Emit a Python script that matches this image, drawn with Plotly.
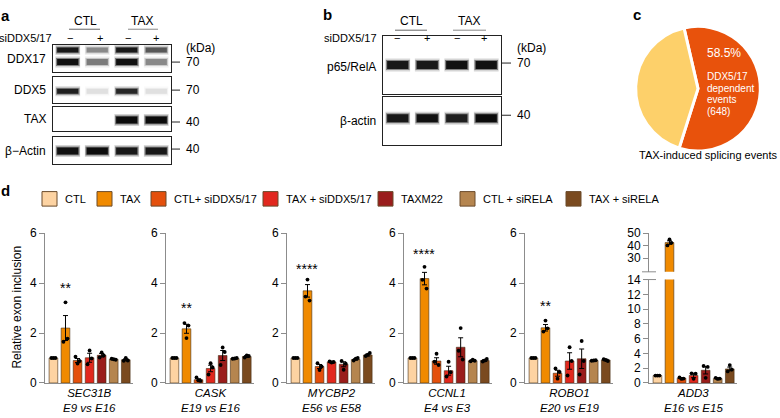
import plotly.graph_objects as go

W, H = 780, 418
FONT = "Liberation Sans, Arial, Helvetica, sans-serif"

# ------------------------------------------------------------------ data
conditions = ["CTL", "TAX", "CTL+ siDDX5/17", "TAX + siDDX5/17", "TAXM22",
              "CTL + siRELA", "TAX + siRELA"]
cond_colors = ["#FDD3A2", "#F08A00", "#E4500C", "#E2281E", "#9A1D1C",
               "#B5854F", "#7A4A1F"]

genes = ["SEC31B", "CASK", "MYCBP2", "CCNL1", "ROBO1", "ADD3"]
exon_pairs = ["E9 vs E16", "E19 vs E16", "E56 vs E58", "E4 vs E3",
              "E20 vs E19", "E16 vs E15"]

sec31b_mean = [1.0, 2.2, 0.9, 1.01, 1.11, 0.95, 0.93]
sec31b_sem = [0.01, 0.5, 0.08, 0.18, 0.07, 0.02, 0.04]
sec31b_pts = [[1.0, 1.0, 1.0], [1.65, 3.23, 1.78], [1.05, 0.78, 0.88],
              [0.75, 1.3, 0.98], [1.02, 1.22, 1.1], [0.97, 0.95, 0.93],
              [0.89, 1.0, 0.9]]

cask_mean = [1.0, 2.17, 0.13, 0.58, 1.1, 0.98, 1.06]
cask_sem = [0.01, 0.18, 0.04, 0.13, 0.2, 0.02, 0.04]
cask_pts = [[1.0, 1.0, 1.0], [2.4, 1.8, 2.3], [0.22, 0.1, 0.08],
            [0.34, 0.79, 0.62], [0.72, 1.42, 1.24], [0.97, 0.98, 1.0],
            [1.02, 1.1, 1.08]]

mycbp2_mean = [1.0, 3.69, 0.66, 0.84, 0.75, 0.94, 1.12]
mycbp2_sem = [0.01, 0.25, 0.08, 0.03, 0.1, 0.03, 0.04]
mycbp2_pts = [[1.0, 1.0, 1.0], [3.46, 4.14, 3.3], [0.79, 0.52, 0.66],
              [0.86, 0.82, 0.84], [0.88, 0.53, 0.77], [0.9, 0.97, 1.0],
              [1.08, 1.13, 1.2]]

ccnl1_mean = [1.0, 4.18, 0.88, 0.49, 1.43, 0.89, 0.9]
ccnl1_sem = [0.01, 0.25, 0.13, 0.18, 0.38, 0.03, 0.04]
ccnl1_pts = [[1.0, 1.0, 1.0], [4.13, 4.65, 3.78], [0.85, 1.17, 0.72],
             [0.26, 0.85, 0.43], [1.29, 2.2, 0.94], [0.87, 0.93, 0.89],
             [0.86, 0.9, 0.96]]

robo1_mean = [1.0, 2.21, 0.39, 0.88, 0.97, 0.9, 0.92]
robo1_sem = [0.01, 0.13, 0.12, 0.33, 0.39, 0.01, 0.03]
robo1_pts = [[1.0, 1.0, 1.0], [2.06, 2.5, 2.19], [0.58, 0.17, 0.44],
             [0.3, 1.43, 0.88], [0.34, 1.68, 0.88], [0.89, 0.9, 0.91],
             [0.95, 0.92, 0.88]]

add3_mean = [1.0, 42.5, 0.65, 1.02, 1.72, 0.6, 1.9]
add3_sem = [0.02, 1.4, 0.08, 0.3, 0.5, 0.06, 0.25]
add3_pts = [[1.0, 1.0, 1.0], [40.2, 45.0, 42.3], [0.75, 0.55, 0.6],
            [1.3, 0.56, 1.26], [2.3, 0.7, 2.17], [0.7, 0.55, 0.6],
            [1.56, 2.43, 1.82]]

stars = ["**", "**", "****", "****", "**", "****"]
star_y = [3.79, 3.02, 4.57, 5.15, 3.1, 53.8]

y_ticks_small = [0, 2, 4, 6]
y_ticks_add3_low = [0, 2, 4, 6, 8, 10, 12, 14]
y_ticks_add3_high = [30, 40, 50]

# western blot band intensities (lanes: CTL -, CTL +, TAX -, TAX +)
lanes_sign = ["\u2212", "+", "\u2212", "+"]
ddx17_upper = [0.9, 0.35, 0.9, 0.55]
ddx17_lower = [0.95, 0.4, 0.95, 0.35]
ddx5_band = [0.85, 0.08, 0.8, 0.08]
tax_band = [0.0, 0.0, 1.0, 1.0]
actin_a_band = [0.95, 1.0, 0.9, 0.9]
p65_band = [0.9, 0.9, 0.95, 0.95]
actin_b_band = [0.9, 0.95, 0.85, 1.0]

pie_labels = ["DDX5/17 dependent", "other"]
pie_values = [58.5, 41.5]
pie_colors = ["#E8520C", "#FDD06A"]

# ------------------------------------------------------------------ helpers
def px(x):
    return x / W


def py(y):
    return 1 - y / H


fig = go.Figure()
axes = {}
annotations = []
shapes = []


def ref(i):
    return ("x" if i == 1 else f"x{i}"), ("y" if i == 1 else f"y{i}")


def add_axes(i, xdom, ydom, xkw, ykw):
    xr, yr = ref(i)
    axes["xaxis" if i == 1 else f"xaxis{i}"] = dict(domain=xdom, anchor=yr, **xkw)
    axes["yaxis" if i == 1 else f"yaxis{i}"] = dict(domain=ydom, anchor=xr, **ykw)


def txt(x, y, s, size=12, xanchor="center", yanchor="middle", color="black",
        bold=False, italic=False, angle=0, xref="paper", yref="paper"):
    if bold:
        s = f"<b>{s}</b>"
    if italic:
        s = f"<i>{s}</i>"
    annotations.append(dict(x=x, y=y, xref=xref, yref=yref, text=s,
                            showarrow=False, xanchor=xanchor, yanchor=yanchor,
                            textangle=angle,
                            font=dict(family=FONT, size=size, color=color)))


def hline(x0, x1, y, color="#555", width=1):
    shapes.append(dict(type="line", xref="paper", yref="paper", x0=px(x0),
                       x1=px(x1), y0=py(y), y1=py(y),
                       line=dict(color=color, width=width)))


blot_x = dict(range=[0, 4], showline=True, mirror=True, linecolor="#222",
              linewidth=1, showticklabels=False, ticks="", showgrid=False,
              zeroline=False, fixedrange=True)
blot_y = dict(range=[0, 1], showline=True, mirror=True, linecolor="#222",
              linewidth=1, showticklabels=False, ticks="", showgrid=False,
              zeroline=False, fixedrange=True)


def add_bands(i, row, intens, width):
    xr, yr = ref(i)
    layers = [(width + 5, 0.42, 0.18), (width + 2, 0.40, 0.45), (width, 0.36, 1.0)]
    for lane, v in enumerate(intens):
        if v <= 0:
            continue
        xc = lane + 0.5
        for lw, half, alpha in layers:
            fig.add_trace(go.Scatter(
                x=[xc - half, xc + half], y=[row, row], mode="lines",
                line=dict(color=f"rgba(12,12,12,{v * alpha:.3f})", width=lw),
                xaxis=xr, yaxis=yr, hoverinfo="skip", showlegend=False))


# ------------------------------------------------------------------ panel a
a_boxes = [(39, 67), (72, 99), (103, 128), (135, 162)]
for k, (t, b) in enumerate(a_boxes):
    add_axes(k + 1, [px(53), px(171)], [py(b), py(t)], blot_x, blot_y)
add_bands(1, 0.80, ddx17_upper, 5)
add_bands(1, 0.36, ddx17_lower, 6)
add_bands(2, 0.44, ddx5_band, 5)
add_bands(3, 0.44, tax_band, 7)
add_bands(4, 0.48, actin_a_band, 7)

txt(px(5), py(9), "a", size=15, bold=True)
txt(px(85), py(14), "CTL", size=12)
txt(px(142), py(14), "TAX", size=12)
hline(69, 100, 23, color="#666")
hline(128, 158, 23, color="#888")
txt(px(54), py(32), "siDDX5/17", size=11, xanchor="right")
for lx, s in zip([70, 100, 128, 156], lanes_sign):
    txt(px(lx), py(32), s, size=11)
for (t, b), lab in zip(a_boxes, ["DDX17", "DDX5", "TAX", "\u03b2\u2212Actin"]):
    txt(px(48), py((t + b) / 2 + 0.5), lab, size=12, xanchor="right")
txt(px(184), py(42), "(kDa)", size=12, xanchor="left")
for yy, lab in zip([57, 86, 119, 147], ["70", "70", "40", "40"]):
    hline(171, 180, yy, color="#222")
    txt(px(184), py(yy), lab, size=12, xanchor="left")

# ------------------------------------------------------------------ panel b
b_boxes = [(30, 90), (93, 143)]
for k, (t, b) in enumerate(b_boxes):
    add_axes(k + 5, [px(383), px(501)], [py(b), py(t)], blot_x, blot_y)
add_bands(5, 0.50, p65_band, 8)
add_bands(6, 0.56, actin_b_band, 8)

txt(px(327), py(8), "b", size=15, bold=True)
txt(px(411), py(14), "CTL", size=12)
txt(px(469), py(14), "TAX", size=12)
hline(395, 427, 24, color="#666")
hline(453, 486, 24, color="#888")
txt(px(379), py(32), "siDDX5/17", size=11, xanchor="right")
for lx, s in zip([397, 427, 457, 484], lanes_sign):
    txt(px(lx), py(32), s, size=11)
txt(px(378), py(62), "p65/RelA", size=12, xanchor="right")
txt(px(378), py(118), "\u03b2-actin", size=12, xanchor="right")
txt(px(515), py(42), "(kDa)", size=12, xanchor="left")
for yy, lab in zip([58, 112], ["70", "40"]):
    hline(501, 511, yy, color="#222")
    txt(px(515), py(yy), lab, size=12, xanchor="left")

# ------------------------------------------------------------------ panel c
fig.add_trace(go.Pie(
    labels=pie_labels, values=pie_values, sort=False, direction="clockwise",
    rotation=-13, marker=dict(colors=pie_colors, line=dict(color="white", width=3)),
    textinfo="none", hoverinfo="skip", showlegend=False,
    domain=dict(x=[px(633), px(763)], y=[py(149), py(20)])))
txt(px(637), py(8), "c", size=15, bold=True)
txt(px(705), py(48), f"{pie_values[0]}%", size=12, xanchor="left", color="white")
for yy, s in zip([72, 84, 96, 108], ["DDX5/17", "dependent", "events", "(648)"]):
    txt(px(705), py(yy), s, size=10, xanchor="left", color="white")
txt(px(779), py(153), "TAX-induced splicing events", size=11, xanchor="right")

# ------------------------------------------------------------------ panel d
txt(px(5), py(190), "d", size=15, bold=True)
leg_x = [42, 97, 151, 263, 378, 460, 566]
for lx, c, name in zip(leg_x, cond_colors, conditions):
    shapes.append(dict(type="rect", xref="paper", yref="paper",
                       x0=px(lx), x1=px(lx + 15), y0=py(206), y1=py(191),
                       fillcolor=c, line=dict(color="#6b4a2a", width=1)))
    txt(px(lx + 21), py(199), name, size=11, xanchor="left")

ax_left = [45, 166, 287, 404, 525, 649]
means = [sec31b_mean, cask_mean, mycbp2_mean, ccnl1_mean, robo1_mean, add3_mean]
sems = [sec31b_sem, cask_sem, mycbp2_sem, ccnl1_sem, robo1_sem, add3_sem]
pts = [sec31b_pts, cask_pts, mycbp2_pts, ccnl1_pts, robo1_pts, add3_pts]
offsets = [-0.17, 0.0, 0.17]
cat_x = list(range(len(conditions)))

chart_x = dict(range=[-0.7, 6.6], showline=True, linecolor="#8c8c8c",
               linewidth=1, showticklabels=False, ticks="", showgrid=False,
               zeroline=False, fixedrange=True)


def chart_y(rng, tv):
    return dict(range=rng, tickvals=tv, ticks="outside", ticklen=5,
                tickcolor="#8c8c8c", showline=True, linecolor="#8c8c8c",
                linewidth=1, showgrid=False, zeroline=False, fixedrange=True,
                tickfont=dict(family=FONT, size=12, color="black"))


def add_chart(i, m, s, p):
    xr, yr = ref(i)
    fig.add_trace(go.Bar(
        x=cat_x, y=m, width=0.72, marker=dict(color=cond_colors,
        line=dict(color="rgba(70,45,20,0.85)", width=0.7)),
        error_y=dict(type="data", array=s, color="black", thickness=1, width=2.5),
        xaxis=xr, yaxis=yr, hoverinfo="skip", showlegend=False))
    xs, ys = [], []
    for c, triple in enumerate(p):
        for off, v in zip(offsets, triple):
            xs.append(c + off)
            ys.append(v)
    fig.add_trace(go.Scatter(
        x=xs, y=ys, mode="markers", marker=dict(color="black", size=3.8),
        xaxis=xr, yaxis=yr, hoverinfo="skip", showlegend=False))


for g in range(6):
    i = 7 + g
    xdom = [px(ax_left[g]), px(ax_left[g] + 88)]
    if g < 5:
        add_axes(i, xdom, [py(389), py(234)], chart_x, chart_y([0, 6], y_ticks_small))
    else:
        add_axes(i, xdom, [py(389), py(282)], chart_x,
                 chart_y([0, 14], y_ticks_add3_low))
    add_chart(i, means[g], sems[g], pts[g])
    xc = ax_left[g] + 44
    txt(px(xc), py(407), f"{genes[g]}<br>{exon_pairs[g]}", size=11.5, italic=True)
    if g < 5:
        xr, yr = ref(i)
        txt(1, star_y[g], stars[g], size=14, xref=xr, yref=yr)

# upper (broken) axis for ADD3
up_x = dict(chart_x)
up_x["visible"] = False
add_axes(13, [px(ax_left[5]), px(ax_left[5] + 88)], [py(274), py(234)], up_x,
         chart_y([19.2, 50], y_ticks_add3_high))
add_chart(13, add3_mean, add3_sem, add3_pts)
txt(1, star_y[5], stars[5], size=14, xref="x13", yref="y13")
hline(642, 656, 274, color="#8c8c8c")
hline(644, 656, 282, color="#8c8c8c")

txt(px(17), py(311), "Relative exon inclusion", size=12, angle=-90)

fig.update_layout(
    width=W, height=H, margin=dict(l=0, r=0, t=0, b=0),
    paper_bgcolor="white", plot_bgcolor="rgba(0,0,0,0)",
    font=dict(family=FONT, size=12, color="black"),
    annotations=annotations, shapes=shapes, bargap=0.2, **axes)

fig.write_html(
    "out.html",
    config={"displayModeBar": False, "staticPlot": True},
    post_script="document.body.style.margin='0';document.body.style.padding='0';"
                "document.body.style.overflow='hidden';"
                "document.documentElement.style.overflow='hidden';")
